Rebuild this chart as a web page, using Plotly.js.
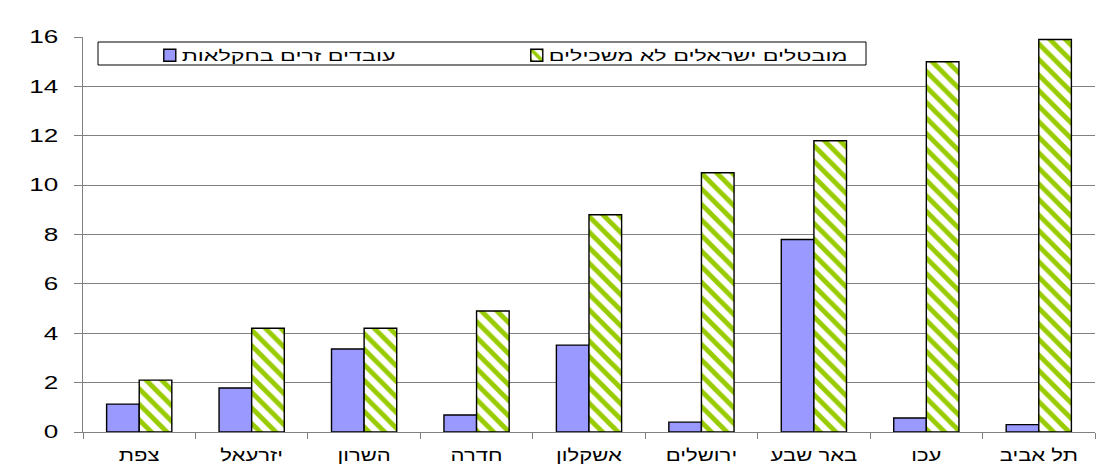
<!DOCTYPE html>
<html><head><meta charset="utf-8">
<script src="https://cdn.plot.ly/plotly-3.0.1.min.js"></script>
<style>body{margin:0;background:#fff}#c{width:1097px;height:468px}</style>
</head><body><div id="c"></div>
<script>
const categories = ["צפת","יזרעאל","השרון","חדרה","אשקלון","ירושלים","באר שבע","עכו","תל אביב"];
const foreignWorkers = [1.13,1.78,3.36,0.69,3.52,0.4,7.8,0.57,0.3];
const unemployed = [2.1,4.2,4.2,4.9,8.8,10.5,11.8,15.0,15.9];
const seriesNames = ["עובדים זרים בחקלאות","מובטלים ישראלים לא משכילים"];
const yTicks = [0,2,4,6,8,10,12,14,16];

const traces = [
  {type:'bar', x:categories, y:foreignWorkers, name:seriesNames[0],
   marker:{color:'#9999ff', line:{color:'#000', width:1.4}}, hoverinfo:'y'},
  {type:'bar', x:categories, y:unemployed, name:seriesNames[1],
   marker:{color:'#ffffff', line:{color:'#000', width:1.4},
     pattern:{shape:'\\', fgcolor:'#99cc00', bgcolor:'#ffffff', size:11, solidity:0.45}}, hoverinfo:'y'}
];
const layout = {
  width:1097, height:468,
  margin:{l:83, r:2, t:37, b:36},
  paper_bgcolor:'#fff', plot_bgcolor:'#fff',
  font:{family:'Liberation Sans, Arial, sans-serif', size:15, color:'#000'},
  barmode:'group', bargap:0.42, bargroupgap:0,
  showlegend:true,
  legend:{orientation:'h', x:0.066, xanchor:'left', y:0.995, yanchor:'top',
    bgcolor:'rgba(0,0,0,0)', borderwidth:0, font:{size:15},
    entrywidth:322, traceorder:'normal', itemclick:false},
  shapes:[{type:'rect', xref:'paper', yref:'paper', x0:(98-83)/1012, x1:(866-83)/1012,
    y0:(432-65)/395, y1:(432-42)/395, line:{color:'#000', width:1}, fillcolor:'#fff', layer:'below'}],
  xaxis:{type:'category', showline:true, linecolor:'#808080', linewidth:1,
    ticks:'outside', tickson:'boundaries', ticklen:6, tickcolor:'#808080',
    showgrid:false, tickfont:{size:17}, ticklabelstandoff:8, fixedrange:true},
  yaxis:{range:[0,16], tickvals:yTicks, ticktext:yTicks.map(String),
    showline:true, linecolor:'#808080', linewidth:1, ticks:'outside', ticklen:8, tickcolor:'#808080',
    showgrid:true, gridcolor:'#808080', gridwidth:1, zeroline:false,
    tickfont:{size:18}, ticklabelstandoff:12, fixedrange:true}
};
function stretch(sel, s, dx) {
  document.querySelectorAll(sel).forEach(t => {
    const x = parseFloat(t.getAttribute('x')) || 0;
    const tr = t.getAttribute('transform') || '';
    t.setAttribute('transform', tr + ' translate(' + (x + (dx||0)) + ',0) scale(' + s + ',1) translate(' + (-x) + ',0)');
  });
}
Plotly.newPlot('c', traces, layout, {displayModeBar:false, staticPlot:true}).then(() => {
  stretch('#c .xtick text', 1.3, 0);
  stretch('#c .ytick text', 1.45, 0);
  stretch('#c .legendtext', 1.55, -8);
});
</script></body></html>
